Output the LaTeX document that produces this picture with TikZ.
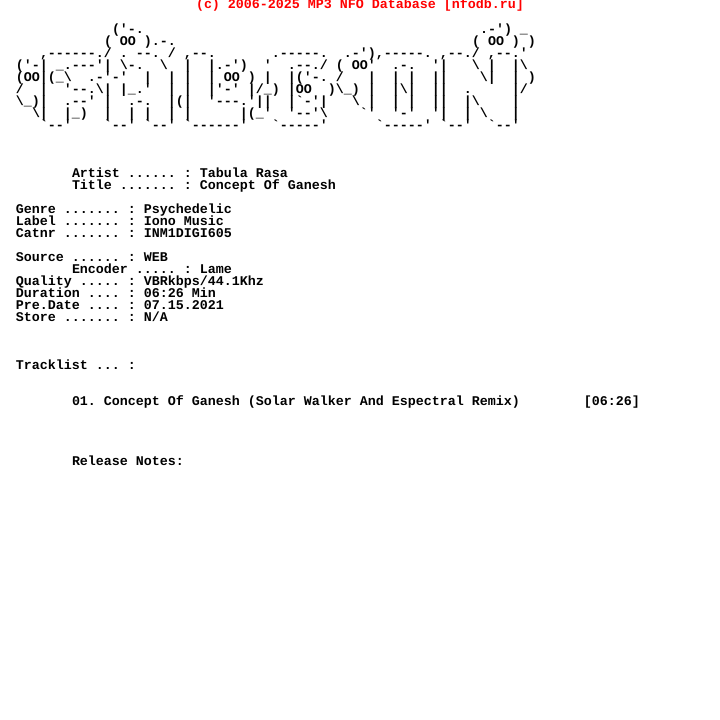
\documentclass[tikz,border=0pt]{standalone}
\usepackage{fontspec}
\newfontfamily\nfofont[BoldFont={Liberation Mono Bold}]{Liberation Mono}
\newcommand\nfotext{\nfofont\bfseries\fontsize{13.33}{12}\selectfont\frenchspacing\obeyspaces\catcode`\\=12 \catcode`\_=12 }
\tikzset{
    artline/.style = {anchor=base west, inner sep=0pt, outer sep=0pt, font=\nfotext},
    nfoline/.style = {artline},
    header/.style = {artline, text=red}
}
\begin{document}
\begin{tikzpicture}[x=1pt, y=-1pt]
    \useasboundingbox (0,0) rectangle (720,720);
    \fill[white] (0,0) rectangle (720,720);
    \node[header] (credit) at (196,9) {(c) 2006-2025 MP3 NFO Database [nfodb.ru]};
    % logo
    \node[artline] (art1) at (112,33) {('-.};
    \node[artline] (art1b) at (480,33) {.-') _};
    \node[artline] (art2) at (104,45) {( OO ).-.};
    \node[artline] (art2b) at (472,45) {( OO ) )};
    \node[artline] (art3) at (40,57) {,------./ . --. / ,--.       .-----.  .-'),-----. ,--./ ,--.'};
    \node[artline] (art4) at (16,69) {('-| _.---'| \-.  \  |  |.-')  '  .--./ ( OO'  .-.  '|   \ |  |\};
    \node[artline] (art5) at (16,81) {(OO|(_\  .-'-'  |  | |  | OO ) |  |('-. /   |  | |  ||    \|  | )};
    \node[artline] (art6) at (16,93) {/  |  '--.\| |_.'  | |  |'-' |/_) |OO  )\_) |  |\|  ||  .     |/};
    \node[artline] (art7) at (16,105) {\_)|  .--' |  .-.  |(|  '---.'||  |`-'|   \ |  | |  ||  |\    |};
    \node[artline] (art8) at (32,117) {\|  |_)  |  | |  | |      |(_'  '--'\    `'  '-'  '|  | \   |};
    \node[artline] (art9) at (40,129) {`--'    `--' `--' `------'   `-----'      `-----' `--'  `--'};
    % release info
    \node[nfoline] (artist) at (72,177) {Artist ...... : Tabula Rasa};
    \node[nfoline] (title) at (72,189) {Title ....... : Concept Of Ganesh};
    \node[nfoline] (genre) at (16,213) {Genre ....... : Psychedelic};
    \node[nfoline] (label) at (16,225) {Label ....... : Iono Music};
    \node[nfoline] (catnr) at (16,237) {Catnr ....... : INM1DIGI605};
    \node[nfoline] (source) at (16,261) {Source ...... : WEB};
    \node[nfoline] (encoder) at (72,273) {Encoder ..... : Lame};
    \node[nfoline] (quality) at (16,285) {Quality ..... : VBRkbps/44.1Khz};
    \node[nfoline] (duration) at (16,297) {Duration .... : 06:26 Min};
    \node[nfoline] (predate) at (16,309) {Pre.Date .... : 07.15.2021};
    \node[nfoline] (store) at (16,321) {Store ....... : N/A};
    \node[nfoline] (tracklist) at (16,369) {Tracklist ... :};
    \node[nfoline] (track) at (72,405) {01. Concept Of Ganesh (Solar Walker And Espectral Remix)        [06:26]};
    \node[nfoline] (notes) at (72,465) {Release Notes:};
\end{tikzpicture}
\end{document}
